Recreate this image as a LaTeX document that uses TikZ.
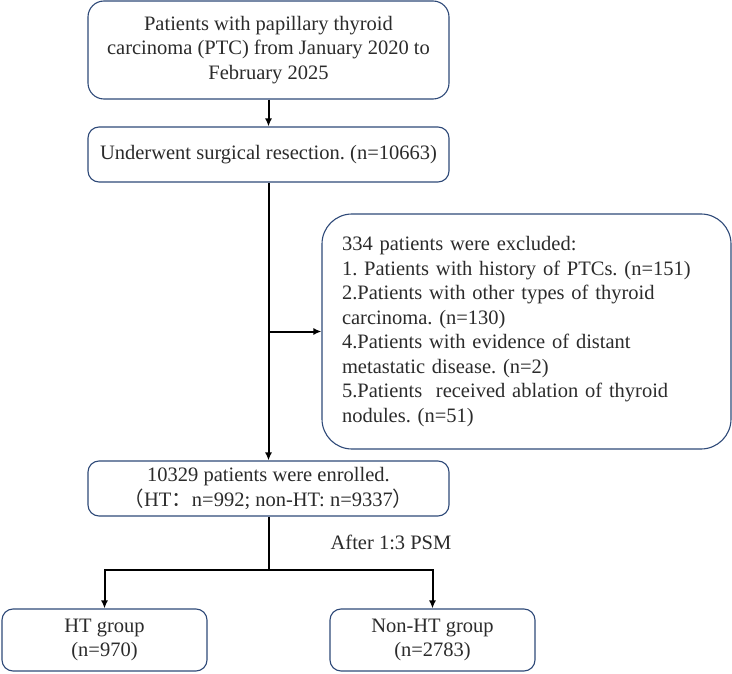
\documentclass[tikz,border=0pt]{standalone}
\usepackage{fontspec}
\setmainfont{Liberation Serif}
\newfontfamily\cjk{Noto Sans CJK SC}
\usepackage{tikz}
\usetikzlibrary{arrows.meta,positioning,calc}
\definecolor{boxnavy}{HTML}{2E4978}
\definecolor{textgray}{HTML}{2B2B2B}
\frenchspacing

\begin{document}
\begin{tikzpicture}[x=1pt,y=-1pt,
  every node/.style={text=textgray,font=\fontsize{20.5}{24.5}\selectfont},
  flowbox/.style={draw=boxnavy,line width=1.1pt,rounded corners=#1,align=center,inner sep=0pt},
  flowbox/.default=11pt,
  flowarrow/.style={-{Latex[length=8pt,width=7pt]},line width=2pt}]
  \useasboundingbox (0,0) rectangle (732,674);

  \node[flowbox=16pt,minimum width=361pt,minimum height=98pt] (source) at (268.5,50)
    {Patients with papillary thyroid\\carcinoma (PTC) from January 2020 to\\February 2025};
  \node[flowbox,minimum width=361pt,minimum height=55pt] (resect) at (268.5,154.5)
    {Underwent surgical resection. (n=10663)};
  \node[flowbox=30pt,minimum height=235pt,text width=369pt,inner xsep=20pt,align=left] (excl) at (526.5,331.5)
    {334 patients were excluded:\\
     1. Patients with history of PTCs. (n=151)\\
     2.Patients with other types of thyroid\\
     carcinoma. (n=130)\\
     4.Patients with evidence of distant\\
     metastatic disease. (n=2)\\
     5.Patients~ received ablation of thyroid\\
     nodules. (n=51)};
  \node[flowbox,minimum width=361pt,minimum height=55pt] (enrol) at (268.5,488.5)
    {10329 patients were enrolled.\\{\cjk （}HT{\cjk ：}n=992; non-HT: n=9337{\cjk ）}};
  \node (psm) at (391,542) {After 1:3 PSM};
  \node[flowbox,minimum width=205pt,minimum height=62pt] (ht) at (104.5,640)
    {HT group\\(n=970)};
  \node[flowbox,minimum width=205pt,minimum height=62pt] (nonht) at (432.5,640)
    {Non-HT group\\(n=2783)};

  \draw[flowarrow] (source) -- (resect);
  \draw[flowarrow] (resect) -- (enrol);
  \coordinate (branch) at (resect.south |- excl.west);
  \draw[flowarrow] (branch) -- (excl.west);
  \coordinate (split) at (268.5,570);
  \draw[line width=2pt] (enrol) -- (split);
  \draw[flowarrow] (split) -| (ht);
  \draw[flowarrow] (split) -| (nonht);
\end{tikzpicture}
\end{document}
